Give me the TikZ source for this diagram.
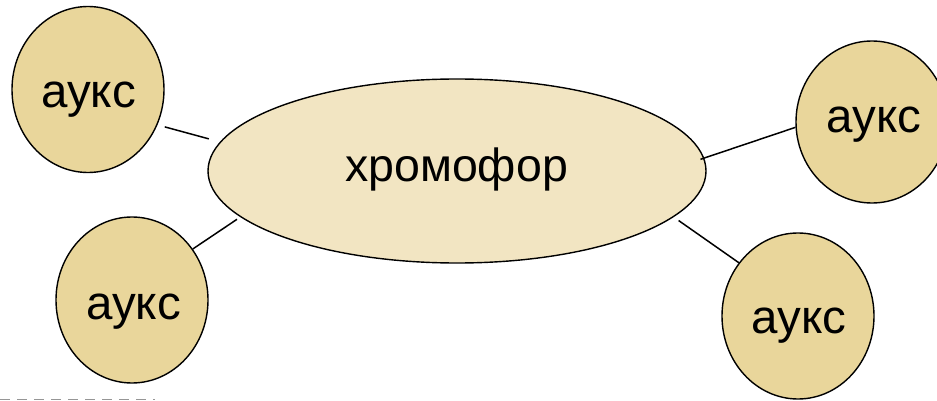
\documentclass[tikz,border=0pt]{standalone}
\usepackage{fontspec}
\setmainfont{Liberation Sans}
\usetikzlibrary{shapes.geometric}
\definecolor{auxfill}{RGB}{233,214,155}
\definecolor{corefill}{RGB}{242,229,194}
\definecolor{dashgray}{RGB}{150,150,150}
\tikzset{
  group/.style={ellipse, draw=black, line width=1.4pt, fill=auxfill,
    minimum width=152pt, minimum height=166pt, inner sep=0pt},
  core/.style={ellipse, draw=black, line width=1.4pt, fill=corefill,
    minimum width=498pt, minimum height=184pt, inner sep=0pt},
  lbl/.style={anchor=base, inner sep=0pt, font=\fontsize{47.5}{50}\selectfont},
  link/.style={draw=black, line width=1.5pt}
}
\begin{document}
\begin{tikzpicture}[x=1pt,y=-1pt]
\useasboundingbox (0,0) rectangle (937,401);
% chromophore core
\node[core] (core) at (457,171) {};
\node[lbl, font=\fontsize{46.5}{50}\selectfont] (coret) at (456.5,182) {хромофор};
% auxochrome groups
\node[group] (tl) at (88,89.5) {};
\node[group] (bl) at (132,300) {};
\node[group, minimum height=162pt] (tr) at (872,122) {};
\node[group] (br) at (798,316) {};
\node[lbl] (tlt) at (88.5,108) {аукс};
\node[lbl] (blt) at (133.5,319) {аукс};
\node[lbl] (trt) at (874,133) {аукс};
\node[lbl] (brt) at (799,333) {аукс};
% bonds
\draw[link, shorten <=7.5pt, shorten >=11.5pt] (tl.-27) -- (core.173.4);
\draw[link, shorten >=4pt] (bl.40.4) -- (core.192.1);
\draw[link, shorten <=-4pt] (core.3.2) -- (tr.184.6);
\draw[link, shorten <=6pt] (core.-12) -- (br.138);
% dashed rule at the lower left
\draw[dashgray, line width=1pt, dash pattern=on 10pt off 7pt] (0,399.5) -- (155,399.5);
\end{tikzpicture}
\end{document}
